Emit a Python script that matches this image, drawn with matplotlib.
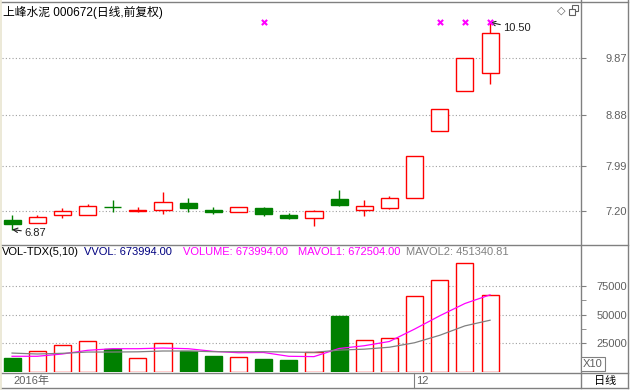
import matplotlib
matplotlib.use("Agg")
import matplotlib.pyplot as plt
from matplotlib.lines import Line2D
from matplotlib.patches import Rectangle
from matplotlib.ticker import FixedLocator, FormatStrFormatter
import matplotlib.transforms as mtrans

plt.rcParams['font.family'] = ['Liberation Sans', 'Noto Sans CJK SC', 'DejaVu Sans']

# daily candles (yuan)
opens  = [7.03, 6.99, 7.12, 7.12, 7.27, 7.20, 7.21, 7.33, 7.21, 7.17, 7.24, 7.12, 7.08, 7.41, 7.21, 7.25, 7.42, 8.60, 9.30, 9.61]
closes = [6.96, 7.09, 7.19, 7.28, 7.26, 7.21, 7.35, 7.24, 7.18, 7.26, 7.14, 7.08, 7.19, 7.30, 7.29, 7.42, 8.16, 8.98, 9.88, 10.31]
highs  = [7.13, 7.12, 7.24, 7.31, 7.38, 7.27, 7.53, 7.42, 7.26, 7.26, 7.27, 7.16, 7.22, 7.56, 7.39, 7.45, 8.16, 8.98, 9.88, 10.50]
lows   = [6.87, 6.99, 7.08, 7.12, 7.17, 7.17, 7.15, 7.18, 7.15, 7.17, 7.11, 7.06, 6.93, 7.29, 7.10, 7.23, 7.42, 8.60, 9.30, 9.42]

# volume (x10 shares) and its moving averages
vol  = [12500, 18300, 23800, 27000, 19800, 12200, 25500, 18000, 13900, 13100, 11600, 10700, 17700, 48500, 27600, 29300, 66500, 79900, 94700, 67400]
ma5  = [13700, 13700, 15700, 18900, 20300, 20300, 20900, 20300, 18000, 16800, 17000, 13700, 13400, 20500, 22900, 26600, 37400, 49000, 59700, 67250]
ma10 = [16500, 15700, 16300, 17400, 17400, 17600, 18300, 18300, 17700, 17700, 17700, 17400, 17100, 19100, 19900, 21600, 25500, 32000, 40200, 45134]

mark_idx = [10, 17, 18, 19]
price_ticks = [7.20, 7.99, 8.88, 9.87]
vol_ticks = [25000, 50000, 75000]
vol_minor = [37500, 62500]
date_pos = [0, 16]
date_text = ['2016年', '12']

title = '上峰水泥 000672(日线,前复权)'
vol_header = [('VOL-TDX(5,10)', 'black', 2), ('VVOL: 673994.00', '#000080', 84),
              ('VOLUME: 673994.00', '#FF00FF', 183), ('MAVOL1: 672504.00', '#FF00FF', 298),
              ('MAVOL2: 451340.81', '#808080', 406)]

RED = '#FF0000'
GREEN = '#008000'
FRAME = '#808080'
W, H = 630, 390

def fx(px):
    return px / W

def fy(py):
    return 1 - py / H

fig = plt.figure(figsize=(6.3, 3.9), dpi=100)
fig.patch.set_facecolor('white')

ax_p = fig.add_axes([fx(2), fy(244), 579 / W, 242 / H])
ax_v = fig.add_axes([fx(2), fy(372), 579 / W, 127 / H])

n = len(opens)
xs = list(range(n))
bw = 0.68

# candles
for i in xs:
    o, c, h, l = opens[i], closes[i], highs[i], lows[i]
    top, bot = max(o, c), min(o, c)
    up = c >= o
    col = RED if up else GREEN
    if h > top:
        ax_p.vlines(i, top, h, color=col, lw=1)
    if l < bot:
        ax_p.vlines(i, l, bot, color=col, lw=1)
    ax_p.bar(i, max(top - bot, 0.005), bottom=bot, width=bw,
             facecolor='white' if up else GREEN, edgecolor=col, lw=1)

ax_p.scatter(mark_idx, [max(highs)] * len(mark_idx), marker='x', s=14,
             color='#FF00FF', linewidths=1.5, zorder=5)

lo_i = lows.index(min(lows))
ax_p.annotate(f'{min(lows):.2f}', xy=(lo_i, min(lows)), xytext=(12, -3),
              textcoords='offset pixels', ha='left', va='center', fontsize=8,
              color='#202020',
              arrowprops=dict(arrowstyle='->', color='#202020', lw=0.8,
                              shrinkA=0, shrinkB=0))
hi_i = highs.index(max(highs))
ax_p.annotate(f'{max(highs):.2f}', xy=(hi_i, max(highs)), xytext=(13, -6),
              textcoords='offset pixels', ha='left', va='center', fontsize=8,
              color='#202020',
              arrowprops=dict(arrowstyle='->', color='#202020', lw=0.8,
                              shrinkA=0, shrinkB=0))

ax_p.set_xlim(-0.4, 22.615)
ax_p.set_ylim(6.617, 10.856)

# volume bars and averages
for i in xs:
    up = closes[i] >= opens[i]
    col = RED if up else GREEN
    ax_v.bar(i, vol[i], width=bw, facecolor='white' if up else GREEN,
             edgecolor=col, lw=1)
ax_v.plot(xs, ma5, color='#FF00FF', lw=0.9, zorder=4)
ax_v.plot(xs, ma10, color='#808080', lw=0.9, zorder=4)
ax_v.set_xlim(-0.4, 22.615)
ax_v.set_ylim(0, 110700)

for ax, ticks, fmt in [(ax_p, price_ticks, '%.2f'), (ax_v, vol_ticks, '%d')]:
    for s in ax.spines.values():
        s.set_visible(False)
    ax.set_xticks([])
    ax.yaxis.tick_right()
    ax.yaxis.set_major_locator(FixedLocator(ticks))
    ax.yaxis.set_major_formatter(FormatStrFormatter(fmt))
    ax.tick_params(axis='y', length=3.6, color=FRAME, labelcolor='#606060',
                   labelsize=8, pad=29.5)
    for lab in ax.get_yticklabels():
        lab.set_horizontalalignment('right')
    ax.grid(axis='y', linestyle=(0, (1, 2)), color='#A0A0A0', lw=0.8)
    ax.set_axisbelow(True)

ax_v.yaxis.set_minor_locator(FixedLocator(vol_minor))
ax_v.tick_params(axis='y', which='minor', length=3.6, color=FRAME)

# date row
trans = mtrans.blended_transform_factory(ax_v.transData, ax_v.transAxes)
for p, t in zip(date_pos, date_text):
    ax_v.text(p + 0.05, -0.071, t, transform=trans, ha='left', va='center',
              fontsize=8, color='#606060', clip_on=False)
    if p > 0:
        ax_v.add_line(Line2D([p - 0.03, p - 0.03], [-0.008, -0.126], transform=trans,
                             color=FRAME, lw=0.8, clip_on=False))

# frame lines
def fline(x0, y0, x1, y1, color=FRAME, lw=1):
    fig.add_artist(Line2D([fx(x0), fx(x1)], [fy(y0), fy(y1)], color=color, lw=lw))

fig.add_artist(Rectangle((0, 0), fx(2), 1, facecolor='#ECE9D8', edgecolor='none'))
fline(2, 1.5, 628, 1.5)
fline(2, 244.5, 628, 244.5)
fline(2, 372.5, 628, 372.5)
fline(2, 388, 628, 388)
fline(581, 0, 581, 388)
fline(628, 0, 628, 388)

# texts
fig.text(fx(3), fy(12), title, fontsize=8.5, color='black', va='center', ha='left')
for t, c, x in vol_header:
    fig.text(fx(x), fy(252), t, fontsize=8, color=c, va='center', ha='left')

fig.text(fx(593), fy(364), 'X10', fontsize=8, color='#606060', ha='center', va='center',
         bbox=dict(boxstyle='square,pad=0.15', facecolor='white', edgecolor=FRAME, lw=0.8))
fig.text(fx(605), fy(381), '日线', fontsize=8, color='black', ha='center', va='center')

fig.text(fx(561), fy(11), '◇', fontsize=8, color='#606060', ha='center', va='center',
         family='DejaVu Sans')
fig.add_artist(Rectangle((fx(572), fy(11)), 6 / W, 6 / H, facecolor='white',
                         edgecolor='#606060', lw=0.8))
fig.add_artist(Rectangle((fx(569), fy(15)), 6 / W, 6 / H, facecolor='white',
                         edgecolor='#606060', lw=0.8))

fig.savefig('out.png', dpi=100)
